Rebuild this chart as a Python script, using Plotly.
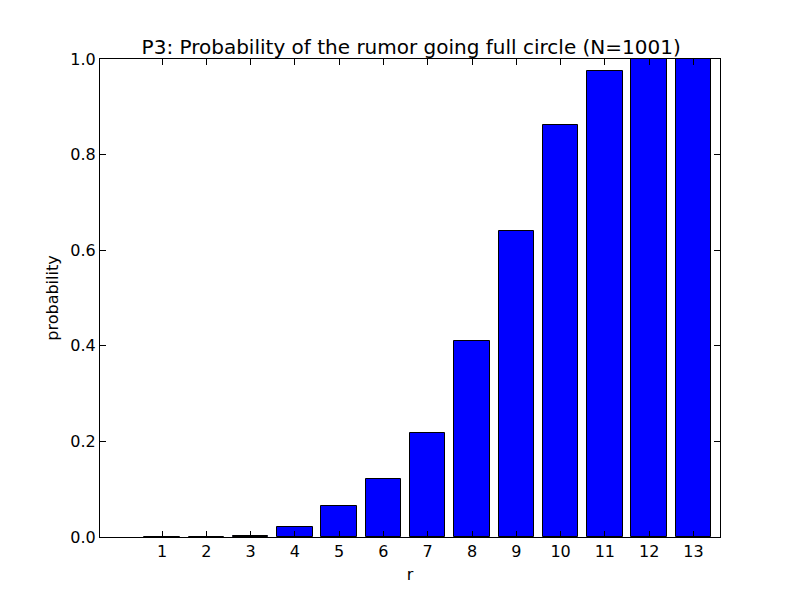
import plotly.graph_objects as go

# data
r_values = [1, 2, 3, 4, 5, 6, 7, 8, 9, 10, 11, 12, 13]
probability = [0.0003, 0.0005, 0.002, 0.021, 0.065, 0.121, 0.217, 0.41, 0.64, 0.862, 0.974, 1.0, 1.0]
y_ticks = [0.0, 0.2, 0.4, 0.6, 0.8, 1.0]
y_tick_labels = ["0.0", "0.2", "0.4", "0.6", "0.8", "1.0"]

fig = go.Figure()
fig.add_trace(go.Bar(
    x=r_values,
    y=probability,
    width=0.8,
    marker=dict(color="#0000ff", line=dict(color="black", width=1)),
))

axis_style = dict(
    showline=True, linecolor="black", linewidth=1, mirror="ticks",
    ticks="inside", ticklen=6, tickcolor="black",
    showgrid=False, zeroline=False,
    tickfont=dict(family="DejaVu Sans", size=16, color="black"),
)

# the page body adds 8px around the figure, so margins are reduced by 8
fig.update_layout(
    width=800, height=597,
    margin=dict(l=92, r=88, t=51, b=68),
    paper_bgcolor="white", plot_bgcolor="white",
    title=dict(text="P3: Probability of the rumor going full circle (N=1001)",
               x=0.504, xanchor="center", y=0.935, yanchor="middle",
               font=dict(family="DejaVu Sans", size=20, color="black")),
    xaxis=dict(range=[-0.4, 13.6], tickvals=r_values, ticktext=[str(v) for v in r_values],
               title=dict(text="r", font=dict(family="DejaVu Sans", size=16, color="black"), standoff=8),
               **axis_style),
    yaxis=dict(range=[0, 1.0], tickvals=y_ticks, ticktext=y_tick_labels,
               title=dict(text="probability", font=dict(family="DejaVu Sans", size=16, color="black"), standoff=7),
               **axis_style),
    showlegend=False,
    bargap=0,
)

fig.write_html("out.html")
